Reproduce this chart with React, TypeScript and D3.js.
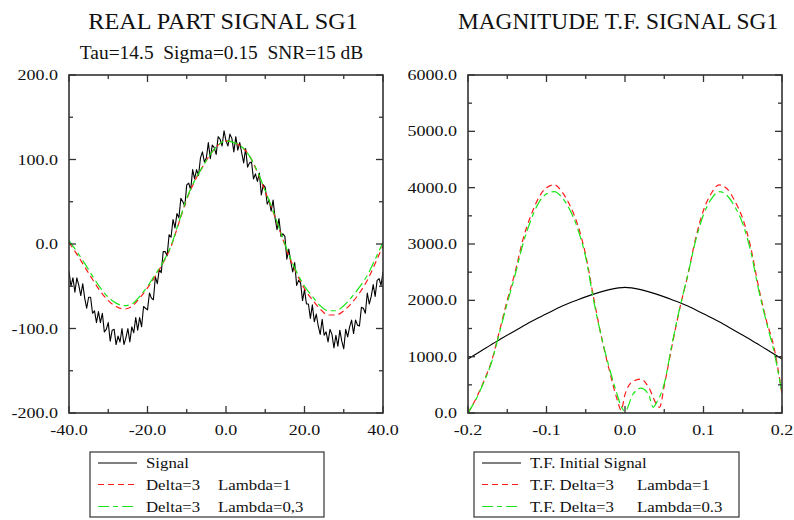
import React from "react";
import * as d3 from "d3";

// ---------- DATA ----------
// Left panel: real part of signal SG1 (sampled every 0.5 from -40 to 40)
const signalStart = -40;
const signalStep = 0.5;
const signalValues = [
  -32, -50, -40, -57, -40, -49, -61, -47, -64, -76,
  -63, -63, -82, -79, -93, -80, -93, -82, -104, -101,
  -93, -115, -102, -101, -119, -109, -116, -100, -119, -111,
  -100, -116, -98, -105, -87, -102, -87, -98, -74, -76,
  -78, -58, -64, -66, -39, -47, -30, -34, -9, -9,
  -14, 11, 8, 29, 19, 36, 31, 54, 50, 45,
  70, 72, 64, 88, 77, 88, 81, 102, 109, 97,
  102, 120, 101, 117, 114, 106, 127, 124, 116, 134,
  122, 116, 130, 125, 109, 127, 111, 120, 108, 96,
  113, 91, 96, 97, 77, 83, 74, 84, 58, 70,
  67, 47, 52, 39, 52, 31, 17, 30, 9, 12,
  9, -18, -6, -21, -33, -22, -49, -43, -46, -67,
  -54, -71, -71, -88, -72, -92, -83, -97, -107, -89,
  -108, -104, -116, -101, -107, -123, -108, -121, -102, -115,
  -124, -101, -110, -98, -90, -106, -90, -96, -97, -75,
  -76, -82, -58, -71, -62, -48, -62, -43, -41, -49,
  -33,
];

// Left panel: reconstructions, sampled every 2 from -40 to 40
const smoothX = [
  -40, -38, -36, -34, -32, -30, -28, -26, -24, -22, -20, -18, -16, -14, -12, -10, -8, -6, -4, -2, 0,
  2, 4, 6, 8, 10, 12, 14, 16, 18, 20, 22, 24, 26, 28, 30, 32, 34, 36, 38, 40,
];
const delta3Lambda1 = [
  2, -12, -27, -42, -56, -67, -74, -77, -74, -64, -52, -38, -22, -3, 25, 53, 74, 91, 106, 117, 122,
  120, 115, 104, 85, 62, 38, 12, -14, -35, -53, -66, -77, -84, -84, -79, -70, -58, -43, -23, -2,
];
const delta3Lambda03 = [
  4, -9, -23, -38, -52, -63, -70, -73, -71, -62, -50, -36, -21, -2, 26, 54, 75, 91, 106, 117, 122,
  120, 115, 104, 86, 63, 39, 13, -12, -33, -50, -62, -73, -79, -79, -73, -63, -51, -37, -18, 2,
];

// Right panel: magnitude of Fourier transform
const tfInitX = [
  -0.2, -0.18, -0.16, -0.14, -0.12, -0.1, -0.08, -0.06, -0.04, -0.02, 0,
  0.02, 0.04, 0.06, 0.08, 0.1, 0.12, 0.14, 0.16, 0.18, 0.2,
];
const tfInitial = [
  960, 1130, 1300, 1460, 1620, 1760, 1900, 2010, 2110, 2190, 2230,
  2190, 2110, 2010, 1900, 1760, 1620, 1460, 1300, 1130, 960,
];
const tfL1X = [
  -0.2, -0.19, -0.18, -0.17, -0.16, -0.15, -0.14, -0.13, -0.12, -0.11, -0.1, -0.09, -0.08, -0.07,
  -0.06, -0.05, -0.04, -0.03, -0.02, -0.01, -0.005, 0, 0.01, 0.02, 0.03, 0.04, 0.044, 0.05, 0.06,
  0.07, 0.08, 0.09, 0.1, 0.11, 0.12, 0.13, 0.14, 0.15, 0.16, 0.17, 0.18, 0.19, 0.2,
];
const tfDelta3Lambda1 = [
  0, 250, 560, 920, 1450, 2000, 2500, 3080, 3500, 3820, 4000, 4050, 3920, 3680,
  3330, 2800, 2050, 1350, 760, 240, 50, 330, 560, 600, 460, 160, 100, 480, 1200,
  1870, 2450, 3100, 3600, 3900, 4050, 3980, 3760, 3450, 2950, 2250, 1650, 1150, 340,
];
const tfL03X = [
  -0.2, -0.19, -0.18, -0.17, -0.16, -0.15, -0.14, -0.13, -0.12, -0.11, -0.1, -0.09, -0.08, -0.07,
  -0.06, -0.05, -0.04, -0.03, -0.02, -0.01, -0.005, 0, 0.01, 0.02, 0.03, 0.036, 0.04, 0.05, 0.06,
  0.07, 0.08, 0.09, 0.1, 0.11, 0.12, 0.13, 0.14, 0.15, 0.16, 0.17, 0.18, 0.19, 0.2,
];
const tfDelta3Lambda03 = [
  0, 240, 540, 900, 1420, 1950, 2450, 3000, 3420, 3730, 3890, 3930, 3820, 3600,
  3260, 2760, 2000, 1350, 800, 330, 120, 30, 330, 440, 330, 100, 180, 520, 1230,
  1880, 2450, 3060, 3520, 3800, 3930, 3860, 3660, 3360, 2880, 2200, 1620, 1080, 350,
];

// Ticks
const leftXTicks = [-40, -20, 0, 20, 40];
const leftXMinor = [-30, -10, 10, 30];
const leftYTicks = [-200, -100, 0, 100, 200];
const leftYMinor = [-150, -50, 50, 150];
const rightXTicks = [-0.2, -0.1, 0, 0.1, 0.2];
const rightXMinor = [-0.15, -0.05, 0.05, 0.15];
const rightYTicks = [0, 1000, 2000, 3000, 4000, 5000, 6000];
const rightYMinor = [500, 1500, 2500, 3500, 4500, 5500];

// Text
const leftTitle = "REAL PART SIGNAL SG1";
const leftSubtitle = "Tau=14.5  Sigma=0.15  SNR=15 dB";
const rightTitle = "MAGNITUDE T.F. SIGNAL SG1";
const leftLegend = [
  ["Signal", ""],
  ["Delta=3", "Lambda=1"],
  ["Delta=3", "Lambda=0,3"],
];
const rightLegend = [
  ["T.F. Initial Signal", ""],
  ["T.F. Delta=3", "Lambda=1"],
  ["T.F. Delta=3", "Lambda=0.3"],
];

// ---------- STYLE ----------
const FONT = "'Liberation Serif', 'Times New Roman', serif";
const AXIS = "#333";
const RED = "#ff1a1a";
const GREEN = "#19e619";
const styles = [
  { stroke: "#000", dash: undefined as string | undefined, width: 1.1 },
  { stroke: RED, dash: "6,4", width: 1.2 },
  { stroke: GREEN, dash: "11,4,5,4", width: 1.2 },
];

const TOP = 75;
const BOTTOM = 413;

type Series = { x: number[]; y: number[]; curve: d3.CurveFactory };

function Panel(props: {
  id: string;
  left: number;
  right: number;
  xDomain: [number, number];
  yDomain: [number, number];
  xTicks: number[];
  xMinor: number[];
  yTicks: number[];
  yMinor: number[];
  series: Series[];
}) {
  const { id, left, right, xDomain, yDomain, xTicks, xMinor, yTicks, yMinor, series } = props;
  const x = d3.scaleLinear().domain(xDomain).range([left, right]);
  const y = d3.scaleLinear().domain(yDomain).range([BOTTOM, TOP]);
  const major = 7;
  const minor = 4;
  const fmt = (v: number) => (Math.abs(v) < 1e-9 ? "0.0" : v.toFixed(1));
  return (
    <g>
      <defs>
        <clipPath id={id}>
          <rect x={left} y={TOP} width={right - left} height={BOTTOM - TOP} />
        </clipPath>
      </defs>
      <g clipPath={`url(#${id})`}>
        {series.map((s, i) => {
          const line = d3
            .line<number>()
            .x((_, j) => x(s.x[j]))
            .y((v) => y(v))
            .curve(s.curve);
          return (
            <path
              key={i}
              d={line(s.y) || ""}
              fill="none"
              stroke={styles[i].stroke}
              strokeWidth={styles[i].width}
              strokeDasharray={styles[i].dash}
              strokeLinejoin="round"
            />
          );
        })}
      </g>
      {xTicks.map((t) => (
        <g key={"xt" + t}>
          <line x1={x(t)} x2={x(t)} y1={BOTTOM} y2={BOTTOM - major} stroke={AXIS} strokeWidth={1.3} />
          <line x1={x(t)} x2={x(t)} y1={TOP} y2={TOP + major} stroke={AXIS} strokeWidth={1.3} />
          <text
            transform={`translate(${x(t)},${BOTTOM + 22}) scale(1.2,1)`}
            textAnchor="middle"
            fontFamily={FONT}
            fontSize={15}
            fill="#111"
          >
            {fmt(t)}
          </text>
        </g>
      ))}
      {xMinor.map((t) => (
        <g key={"xm" + t}>
          <line x1={x(t)} x2={x(t)} y1={BOTTOM} y2={BOTTOM - minor} stroke={AXIS} strokeWidth={1.3} />
          <line x1={x(t)} x2={x(t)} y1={TOP} y2={TOP + minor} stroke={AXIS} strokeWidth={1.3} />
        </g>
      ))}
      {yTicks.map((t) => (
        <g key={"yt" + t}>
          <line x1={left} x2={left + major} y1={y(t)} y2={y(t)} stroke={AXIS} strokeWidth={1.3} />
          <line x1={right} x2={right - major} y1={y(t)} y2={y(t)} stroke={AXIS} strokeWidth={1.3} />
          <text
            transform={`translate(${left - 11},${y(t) + 5}) scale(1.2,1)`}
            textAnchor="end"
            fontFamily={FONT}
            fontSize={15}
            fill="#111"
          >
            {fmt(t)}
          </text>
        </g>
      ))}
      {yMinor.map((t) => (
        <g key={"ym" + t}>
          <line x1={left} x2={left + minor} y1={y(t)} y2={y(t)} stroke={AXIS} strokeWidth={1.3} />
          <line x1={right} x2={right - minor} y1={y(t)} y2={y(t)} stroke={AXIS} strokeWidth={1.3} />
        </g>
      ))}
      <rect x={left} y={TOP} width={right - left} height={BOTTOM - TOP} fill="none" stroke={AXIS} strokeWidth={1.6} />
    </g>
  );
}

function Legend(props: { x0: number; x1: number; entries: string[][]; col2: number; textX: number }) {
  const { x0, x1, entries, col2, textX } = props;
  const rowY = [468, 489.5, 511.5];
  return (
    <g>
      <rect x={x0} y={452} width={x1 - x0} height={65} fill="#fff" stroke={AXIS} strokeWidth={1.2} />
      {entries.map((e, i) => (
        <g key={i}>
          <line
            x1={x0 + 8}
            x2={x0 + 47}
            y1={rowY[i] - 5}
            y2={rowY[i] - 5}
            stroke={styles[i].stroke}
            strokeWidth={styles[i].width}
            strokeDasharray={styles[i].dash}
          />
          <text transform={`translate(${textX},${rowY[i]}) scale(1.12,1)`} fontFamily={FONT} fontSize={15} fill="#111">
            {e[0]}
          </text>
          {e[1] && (
            <text transform={`translate(${col2},${rowY[i]}) scale(1.12,1)`} fontFamily={FONT} fontSize={15} fill="#111">
              {e[1]}
            </text>
          )}
        </g>
      ))}
    </g>
  );
}

export default function App() {
  const signalX = signalValues.map((_, i) => signalStart + i * signalStep);
  return (
    <svg
      width={794}
      height={520}
      viewBox="0 0 794 520"
      style={{ position: "absolute", left: 0, top: 0, background: "#fff" }}
    >
      <rect width={794} height={520} fill="#fff" />
      <text transform="translate(223,29) scale(1.055,1)" textAnchor="middle" fontFamily={FONT} fontSize={23} fill="#111">
        {leftTitle}
      </text>
      <text
        transform="translate(221.5,59) scale(1.05,1)"
        textAnchor="middle"
        fontFamily={FONT}
        fontSize={18.5}
        fill="#111"
        style={{ whiteSpace: "pre" }}
      >
        {leftSubtitle}
      </text>
      <text transform="translate(618,29) scale(1.016,1)" textAnchor="middle" fontFamily={FONT} fontSize={23} fill="#111">
        {rightTitle}
      </text>
      <Panel
        id="clipL"
        left={69}
        right={383}
        xDomain={[-40, 40]}
        yDomain={[-200, 200]}
        xTicks={leftXTicks}
        xMinor={leftXMinor}
        yTicks={leftYTicks}
        yMinor={leftYMinor}
        series={[
          { x: signalX, y: signalValues, curve: d3.curveLinear },
          { x: smoothX, y: delta3Lambda1, curve: d3.curveMonotoneX },
          { x: smoothX, y: delta3Lambda03, curve: d3.curveMonotoneX },
        ]}
      />
      <Panel
        id="clipR"
        left={468}
        right={782}
        xDomain={[-0.2, 0.2]}
        yDomain={[0, 6000]}
        xTicks={rightXTicks}
        xMinor={rightXMinor}
        yTicks={rightYTicks}
        yMinor={rightYMinor}
        series={[
          { x: tfInitX, y: tfInitial, curve: d3.curveMonotoneX },
          { x: tfL1X, y: tfDelta3Lambda1, curve: d3.curveMonotoneX },
          { x: tfL03X, y: tfDelta3Lambda03, curve: d3.curveMonotoneX },
        ]}
      />
      <Legend x0={90} x1={324} entries={leftLegend} textX={146} col2={218} />
      <Legend x0={474} x1={739} entries={rightLegend} textX={530} col2={637} />
    </svg>
  );
}
